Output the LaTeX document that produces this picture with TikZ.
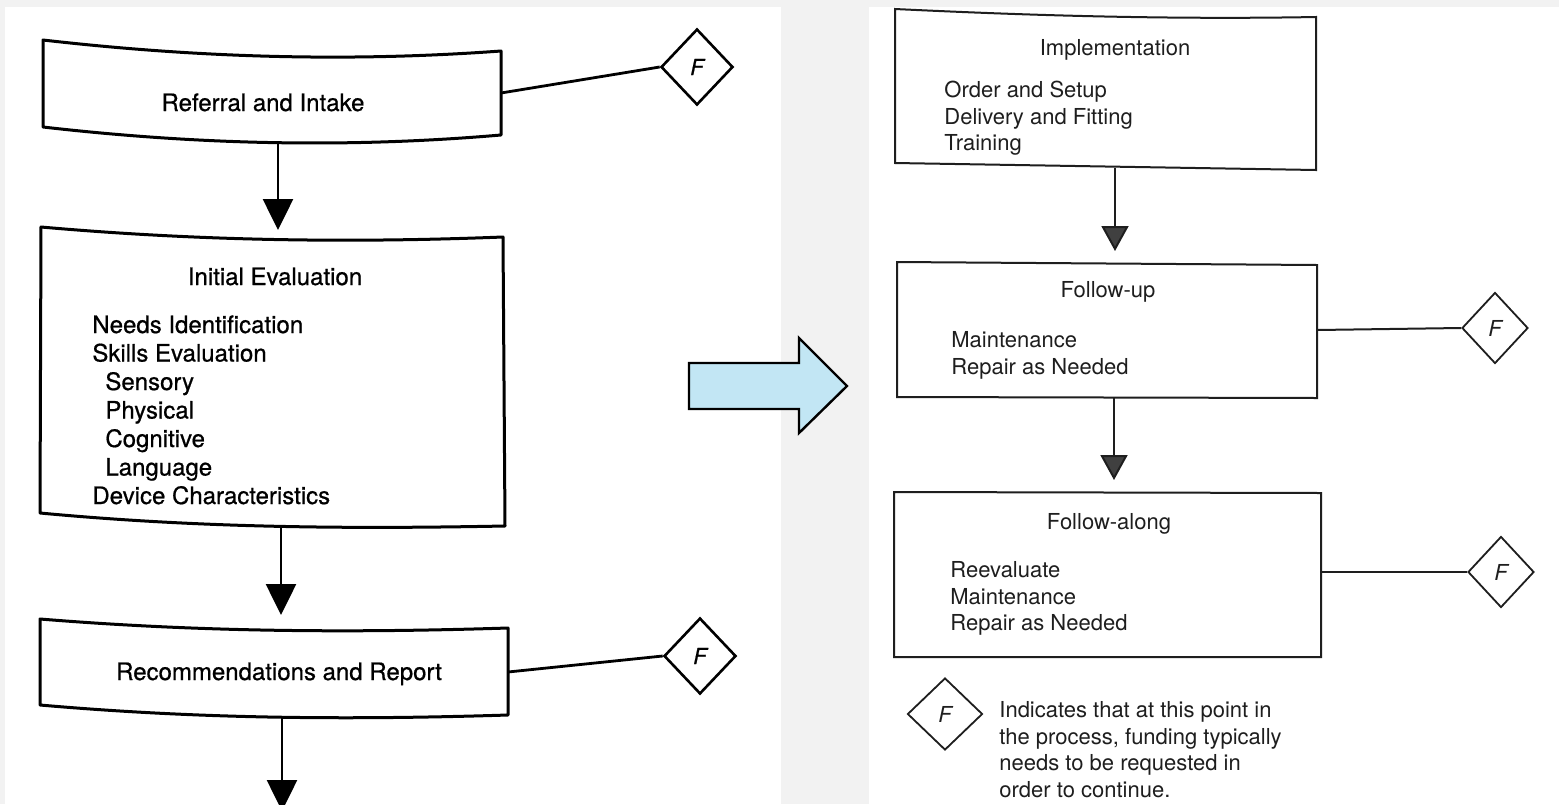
\documentclass[tikz,border=0pt]{standalone}
\usepackage{fontspec}
\setmainfont{TeX Gyre Heros}
\newfontfamily\heavyfont{TeX Gyre Heros}[FakeBold=0.7]
\usetikzlibrary{shapes.geometric,arrows.meta}
\definecolor{bggray}{HTML}{F2F2F2}
\definecolor{arrowblue}{HTML}{C2E6F4}
\definecolor{headgray}{HTML}{404040}
\definecolor{inkR}{HTML}{1E1E1E}
\begin{document}
\begin{tikzpicture}[x=0.5pt,y=-0.5pt,
  lbox/.style={line width=1.5pt, line join=round},
  rbox/.style={line width=1pt, draw=inkR},
  lline/.style={line width=1.4pt},
  rline/.style={line width=1pt, draw=inkR},
  lt/.style={font=\heavyfont\fontsize{12pt}{14pt}\selectfont, anchor=base west, inner sep=0},
  ltc/.style={lt, anchor=base},
  rt/.style={font=\fontsize{11pt}{13pt}\selectfont, text=inkR, anchor=base west, inner sep=0},
  rtc/.style={rt, anchor=base},
  fdl/.style={diamond, draw, line width=1.3pt, inner sep=0, minimum width=36pt, minimum height=38pt, font=\heavyfont\fontsize{11pt}{13pt}\selectfont\itshape},
  fdr/.style={diamond, draw=inkR, text=inkR, line width=0.9pt, inner sep=0, minimum width=33pt, minimum height=35.5pt, font=\fontsize{11pt}{13pt}\selectfont\itshape},
  larrow/.style={line width=1.3pt, -{Triangle[length=15.5pt,width=15pt]}},
  rarrow/.style={line width=1pt, draw=inkR, -{Triangle[length=12.5pt,width=13.5pt,fill=headgray]}}
]
\clip (0,0) rectangle (1559,804);
\fill[bggray] (0,0) rectangle (1559,804);
\fill[white] (5,7) rectangle (781,804);
\fill[white] (869,7) rectangle (1559,804);

% ---------- Left panel ----------
% Referral and Intake
\draw[lbox] (43,40) .. controls (200,58) and (350,62) .. (501,51) -- (501,135)
  .. controls (350,148) and (200,145) .. (43,127) -- cycle;
\node[ltc] (ri) at (263,111) {Referral and Intake};
\coordinate (ri-b) at (278,143);
\coordinate (ri-r) at (501,93);
\node[fdl] (f1) at (697,67) {F};
\draw[lline] (ri-r) -- (f1.west);

% Initial Evaluation
\draw[lbox] (41,227) .. controls (200,241) and (350,243) .. (503,237) -- (505,526)
  .. controls (350,529) and (200,528) .. (40,513) -- cycle;
\node[ltc] (ie) at (275,285) {Initial Evaluation};
\node[lt] (ie1) at (92,333) {Needs Identification};
\node[lt] (ie2) at (92,361.5) {Skills Evaluation};
\node[lt] (ie3) at (105,390) {Sensory};
\node[lt] (ie4) at (105,418.5) {Physical};
\node[lt] (ie5) at (105,447) {Cognitive};
\node[lt] (ie6) at (105,475.5) {Language};
\node[lt] (ie7) at (92,504) {Device Characteristics};
\coordinate (ie-t) at (278,240);
\coordinate (ie-b) at (281,527);
\draw[larrow, shorten >=5pt] (ri-b) -- (ie-t);

% Recommendations and Report
\draw[lbox] (40,619) .. controls (200,632) and (350,633) .. (508,628) -- (508,715)
  .. controls (350,720) and (200,719) .. (40,705) -- cycle;
\node[ltc] (rr) at (279,680) {Recommendations and Report};
\coordinate (rr-t) at (281,631);
\coordinate (rr-b) at (282,718);
\coordinate (rr-r) at (508,672);
\node[fdl] (f2) at (700,656) {F};
\draw[lline] (rr-r) -- (f2.west);
\draw[larrow, shorten >=8pt] (ie-b) -- (rr-t);
\coordinate (next) at (282,811);
\draw[larrow] (rr-b) -- (next);

% ---------- Blue arrow ----------
\draw[line width=1.2pt, fill=arrowblue, line join=miter]
  (689,363) -- (799,363) -- (799,338) -- (847,386) -- (799,433) -- (799,409) -- (689,409) -- cycle;

% ---------- Right panel ----------
% Implementation
\draw[rbox] (895,9) .. controls (1000,14) and (1150,20) .. (1316,17) -- (1316,170) -- (895,163) -- cycle;
\node[rtc] (im) at (1115,55) {Implementation};
\node[rt] (im1) at (944,97) {Order and Setup};
\node[rt] (im2) at (944,124) {Delivery and Fitting};
\node[rt] (im3) at (944,150) {Training};
\coordinate (im-b) at (1115,168);

% Follow-up
\draw[rbox] (897,262) -- (1317,265) -- (1317,398) -- (897,397) -- cycle;
\node[rtc] (fu) at (1108,297) {Follow-up};
\node[rt] (fu1) at (951,347) {Maintenance};
\node[rt] (fu2) at (951,374) {Repair as Needed};
\coordinate (fu-t) at (1115,263);
\coordinate (fu-b) at (1114,398);
\coordinate (fu-r) at (1317,330);
\node[fdr] (f3) at (1495,328) {F};
\draw[rline] (fu-r) -- (f3.west);
\draw[rarrow, shorten >=6pt] (im-b) -- (fu-t);

% Follow-along
\draw[rbox] (894,492) -- (1321,493) -- (1321,657) -- (894,657) -- cycle;
\node[rtc] (fa) at (1109,529) {Follow-along};
\node[rt] (fa1) at (950,577) {Reevaluate};
\node[rt] (fa2) at (950,604) {Maintenance};
\node[rt] (fa3) at (950,630) {Repair as Needed};
\coordinate (fa-t) at (1114,492);
\coordinate (fa-r) at (1321,572);
\node[fdr] (f4) at (1501,572) {F};
\draw[rline] (fa-r) -- (f4.west);
\draw[rarrow, shorten >=6pt] (fu-b) -- (fa-t);

% Legend
\node[fdr, minimum width=37.5pt, minimum height=36pt] (f5) at (945,714) {F};
\node[rt] (lg1) at (999,717) {Indicates that at this point in};
\node[rt] (lg2) at (999,744) {the process, funding typically};
\node[rt] (lg3) at (999,770) {needs to be requested in};
\node[rt] (lg4) at (999,797) {order to continue.};
\end{tikzpicture}
\end{document}
